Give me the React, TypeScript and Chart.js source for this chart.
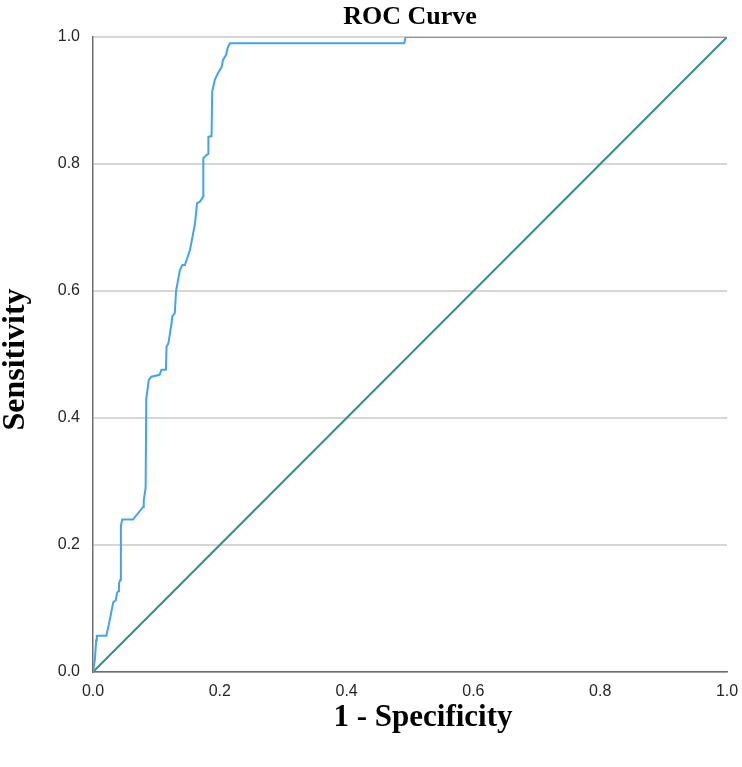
import React, { useEffect, useRef } from "react";
import { Chart, registerables } from "chart.js";

Chart.register(...registerables);

const chartTitle = "ROC Curve";
const xAxisTitle = "1 - Specificity";
const yAxisTitle = "Sensitivity";
const tickValues = [0, 0.2, 0.4, 0.6, 0.8, 1.0];

const rocFpr = [
  0, 0.003, 0.005, 0.006, 0.021, 0.025, 0.03, 0.032, 0.036, 0.038, 0.04, 0.041, 0.043,
  0.044, 0.046, 0.063, 0.071, 0.079, 0.08, 0.083, 0.084, 0.088, 0.092, 0.105, 0.108,
  0.115, 0.116, 0.119, 0.124, 0.125, 0.129, 0.131, 0.137, 0.141, 0.145, 0.153, 0.158,
  0.161, 0.164, 0.169, 0.174, 0.174, 0.179, 0.182, 0.182, 0.187, 0.188, 0.192, 0.197,
  0.203, 0.205, 0.21, 0.212, 0.216, 0.491, 0.493, 1.0,
];
const rocTpr = [
  0, 0.02, 0.05, 0.057, 0.057, 0.075, 0.1, 0.11, 0.113, 0.125, 0.127, 0.14, 0.145,
  0.23, 0.24, 0.24, 0.25, 0.26, 0.27, 0.29, 0.43, 0.46, 0.465, 0.468, 0.476,
  0.476, 0.512, 0.518, 0.55, 0.56, 0.565, 0.6, 0.633, 0.641, 0.641, 0.665, 0.691,
  0.707, 0.738, 0.741, 0.749, 0.809, 0.814, 0.816, 0.843, 0.844, 0.914, 0.932, 0.943,
  0.953, 0.964, 0.972, 0.982, 0.99, 0.99, 1.0, 1.0,
];
const refX = [0, 1];
const refY = [0, 1];

const serif = "'Liberation Serif', 'Times New Roman', serif";
const sans = "'Liberation Sans', Arial, sans-serif";

const axisTitlePlugin = {
  id: "axisTitlePlugin",
  afterDraw(chart: any) {
    const { ctx, chartArea } = chart;
    ctx.save();
    ctx.fillStyle = "#000000";
    ctx.textAlign = "center";
    ctx.textBaseline = "middle";
    ctx.font = `bold 31px ${serif}`;
    const cx = (chartArea.left + chartArea.right) / 2 + 13;
    ctx.fillText(xAxisTitle, cx, chartArea.bottom + 46);
    ctx.translate(16, (chartArea.top + chartArea.bottom) / 2 + 5);
    ctx.rotate(-Math.PI / 2);
    ctx.font = `bold 32px ${serif}`;
    ctx.fillText(yAxisTitle, 0, 0);
    ctx.restore();
  },
};

export default function App() {
  const canvasRef = useRef<HTMLCanvasElement | null>(null);

  useEffect(() => {
    if (!canvasRef.current) return;
    const rocPoints = rocFpr.map((x, i) => ({ x, y: rocTpr[i] }));
    const refPoints = refX.map((x, i) => ({ x, y: refY[i] }));

    const chart = new Chart(canvasRef.current, {
      type: "scatter",
      data: {
        datasets: [
          {
            label: "ROC",
            data: rocPoints,
            showLine: true,
            borderColor: "#44a3ec",
            borderWidth: 2,
            pointRadius: 0,
            tension: 0,
            order: 1,
          },
          {
            label: "Reference",
            data: refPoints,
            showLine: true,
            borderColor: "#328e8a",
            borderWidth: 2,
            pointRadius: 0,
            tension: 0,
            order: 2,
          },
        ],
      },
      plugins: [axisTitlePlugin],
      options: {
        animation: false,
        responsive: false,
        maintainAspectRatio: false,
        layout: { padding: { left: 0, right: 15, top: 0, bottom: 0 } },
        plugins: {
          legend: { display: false },
          tooltip: { enabled: false },
          title: {
            display: true,
            fullSize: false,
            text: chartTitle,
            color: "#000000",
            font: { family: serif, size: 26, weight: "bold", lineHeight: 1 },
            padding: { top: 4, bottom: 7 },
          },
        },
        scales: {
          x: {
            type: "linear",
            min: 0,
            max: 1,
            afterFit: (scale: any) => {
              scale.height = 95;
              scale.paddingRight = 0;
              scale.paddingLeft = 0;
            },
            afterBuildTicks: (scale: any) => {
              scale.ticks = tickValues.map((v) => ({ value: v }));
            },
            ticks: {
              padding: 10,
              color: "#262626",
              font: { family: sans, size: 16 },
              callback: (v: any) => Number(v).toFixed(1),
              maxRotation: 0,
            },
            grid: { display: false, drawTicks: false },
            border: { display: true, color: "#6e6e6e", width: 1.5 },
            title: { display: false },
          },
          y: {
            type: "linear",
            min: 0,
            max: 1,
            afterFit: (scale: any) => {
              scale.width = 93;
            },
            afterBuildTicks: (scale: any) => {
              scale.ticks = tickValues.map((v) => ({ value: v }));
            },
            ticks: {
              padding: 13,
              color: "#262626",
              font: { family: sans, size: 16 },
              callback: (v: any) => Number(v).toFixed(1),
            },
            grid: {
              display: true,
              drawTicks: false,
              color: "#d6d6d6",
              lineWidth: 2,
            },
            border: { display: true, color: "#6e6e6e", width: 1.5 },
            title: { display: false },
          },
        },
      },
    });
    return () => chart.destroy();
  }, []);

  return (
    <div style={{ position: "absolute", left: 0, top: 0, width: 742, height: 767, background: "#ffffff" }}>
      <canvas ref={canvasRef} width={742} height={767} style={{ width: 742, height: 767, display: "block" }} />
    </div>
  );
}
